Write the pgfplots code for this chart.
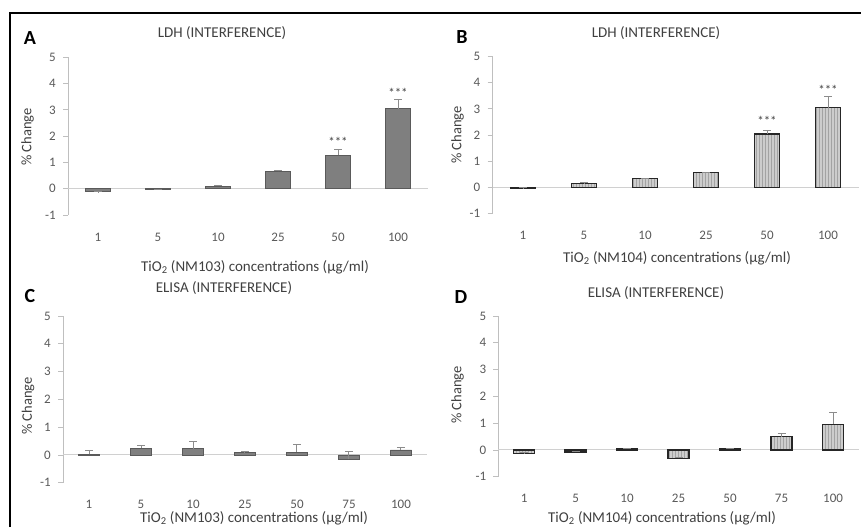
\documentclass[border=0pt]{standalone}
\usepackage{pgfplots}
\pgfplotsset{compat=1.18}
\usepackage{fontspec}
\setmainfont{Carlito}
\usetikzlibrary{patterns}
\definecolor{axgray}{HTML}{BFBFBF}
\definecolor{zerogray}{HTML}{D0D0D0}
\definecolor{ticktxt}{HTML}{595959}
\definecolor{labtxt}{HTML}{404040}
\definecolor{darkbar}{HTML}{7F7F7F}
\definecolor{darkbarline}{HTML}{5A5A5A}
\definecolor{lightbar}{HTML}{CDCDCD}
\definecolor{stripe}{HTML}{A3A3A3}
\definecolor{errgray}{HTML}{8C8C8C}
\newcommand\tickfont{\fontsize{13}{14}\selectfont}
\newcommand\titlefont{\fontsize{15}{17}\selectfont}
\newcommand\labfont{\fontsize{15}{17}\selectfont}
\newcommand\yfont{\fontsize{14.5}{16}\selectfont}
\newcommand\letterfont{\fontsize{20}{22}\selectfont\bfseries}
\newcommand\starfont{\fontsize{13}{14}\selectfont}
\pgfplotsset{
  panel/.style={
    scale only axis, anchor=south west,
    ymin=-1, ymax=5, ytick={-1,0,1,2,3,4,5},
    axis lines*=left,
    axis line style={-},
    x axis line style={draw=none},
    y axis line style={draw=axgray, line width=0.8pt},
    xtick style={draw=none},
    ytick style={draw=axgray, line width=0.8pt},
    tick align=outside, major tick length=5pt,
    ticklabel style={font=\tickfont, text=ticktxt},
    /pgf/number format/assume math mode=true,
    xticklabel style={anchor=center, inner sep=0pt, yshift=-17pt},
    yticklabel style={anchor=east, inner sep=0pt, xshift=-7pt},
    ybar, bar width=0.41,
    clip=false,
  },
  errs/.style={error bars/.cd, y dir=plus, y explicit,
    error bar style={draw=errgray, line width=1pt},
    error mark options={draw=errgray, line width=1pt, mark size=4pt, rotate=90}},
  darkbars/.style={fill=darkbar, draw=darkbarline, line width=0.8pt, errs},
  lightbars/.style={fill=lightbar, draw=black!85, line width=1.3pt,
    postaction={pattern=vertical lines, pattern color=stripe}, errs},
}
\tikzset{stars/.style={font=\starfont, text=labtxt, anchor=base, yshift=-7pt}}
\begin{document}
\begin{tikzpicture}
\useasboundingbox (0pt,0pt) rectangle (861pt,527pt);
% frame
\draw[line width=2pt] (9.5pt,0pt) -- (9.5pt,513.7pt) -- (861pt,513.7pt);

% ---------- Panel A ----------
\begin{axis}[panel, at={(68pt,312pt)}, width=360pt, height=157.7pt,
  xmin=-0.5, xmax=5.5, xtick={0,...,5}, xticklabels={1,5,10,25,50,100}]
\draw[zerogray, line width=1pt] (axis cs:-0.5,0) -- (axis cs:5.5,0);
\addplot[darkbars] coordinates {
  (0,-0.12) +- (0,0.01)
  (1,-0.03) +- (0,0.01)
  (2,0.10) +- (0,0.03)
  (3,0.66) +- (0,0.05)
  (4,1.27) +- (0,0.21)
  (5,3.04) +- (0,0.34)
};
\node[stars] at (axis cs:4,1.86) {***};
\node[stars] at (axis cs:5,3.74) {***};
\end{axis}

% ---------- Panel B ----------
\begin{axis}[panel, at={(492.5pt,313.7pt)}, width=366pt, height=156.7pt,
  xmin=-0.5, xmax=5.5, xtick={0,...,5}, xticklabels={1,5,10,25,50,100}]
\draw[zerogray, line width=1pt] (axis cs:-0.5,0) -- (axis cs:5.5,0);
\addplot[lightbars] coordinates {
  (0,-0.04) +- (0,0.01)
  (1,0.15) +- (0,0.02)
  (2,0.32) +- (0,0.03)
  (3,0.55) +- (0,0.02)
  (4,2.04) +- (0,0.13)
  (5,3.04) +- (0,0.43)
};
\node[stars] at (axis cs:4,2.62) {***};
\node[stars] at (axis cs:5,3.83) {***};
\end{axis}

% ---------- Panel C ----------
\begin{axis}[panel, at={(63pt,44.3pt)}, width=364pt, height=166.7pt,
  xmin=-0.5, xmax=6.5, xtick={0,...,6}, xticklabels={1,5,10,25,50,75,100}]
\draw[zerogray, line width=1pt] (axis cs:-0.5,0) -- (axis cs:6.5,0);
\addplot[darkbars] coordinates {
  (0,0.02) +- (0,0.14)
  (1,0.24) +- (0,0.10)
  (2,0.22) +- (0,0.28)
  (3,0.08) +- (0,0.06)
  (4,0.10) +- (0,0.28)
  (5,-0.16) +- (0,0.28)
  (6,0.18) +- (0,0.08)
};
\end{axis}

% ---------- Panel D ----------
\begin{axis}[panel, at={(498.3pt,50.3pt)}, width=360.5pt, height=160.7pt,
  xmin=-0.5, xmax=6.5, xtick={0,...,6}, xticklabels={1,5,10,25,50,75,100}]
\draw[zerogray, line width=1pt] (axis cs:-0.5,0) -- (axis cs:6.5,0);
\addplot[lightbars] coordinates {
  (0,-0.14) +- (0,0.05)
  (1,-0.08) +- (0,0.03)
  (2,0.04) +- (0,0.03)
  (3,-0.31) +- (0,0.03)
  (4,0.04) +- (0,0.03)
  (5,0.50) +- (0,0.13)
  (6,0.96) +- (0,0.44)
};
\end{axis}

% titles
\node[font=\titlefont, text=labtxt] at (222pt,494pt) {LDH (INTERFERENCE)};
\node[font=\titlefont, text=labtxt] at (656pt,494pt) {LDH (INTERFERENCE)};
\node[font=\titlefont, text=labtxt] at (224pt,239pt) {ELISA (INTERFERENCE)};
\node[font=\titlefont, text=labtxt] at (656pt,234pt) {ELISA (INTERFERENCE)};
% panel letters
\node[font=\letterfont] at (30pt,488.5pt) {A};
\node[font=\letterfont] at (462pt,489.5pt) {B};
\node[font=\letterfont] at (30pt,231pt) {C};
\node[font=\letterfont] at (461pt,229.5pt) {D};
% x labels
\node[font=\labfont, text=labtxt] at (255pt,260pt) {TiO\textsubscript{2} (NM103) concentrations (µg/ml)};
\node[font=\labfont, text=labtxt] at (677pt,269pt) {TiO\textsubscript{2} (NM104) concentrations (µg/ml)};
\node[font=\labfont, text=labtxt] at (254pt,9pt) {TiO\textsubscript{2} (NM103) concentrations (µg/ml)};
\node[font=\labfont, text=labtxt] at (662pt,9pt) {TiO\textsubscript{2} (NM104) concentrations (µg/ml)};
% y labels
\node[font=\yfont, text=labtxt, rotate=90] at (27.5pt,390pt) {\% Change};
\node[font=\yfont, text=labtxt, rotate=90] at (457.5pt,392pt) {\% Change};
\node[font=\yfont, text=labtxt, rotate=90] at (28pt,121pt) {\% Change};
\node[font=\yfont, text=labtxt, rotate=90] at (457.5pt,132pt) {\% Change};
\end{tikzpicture}
\end{document}
